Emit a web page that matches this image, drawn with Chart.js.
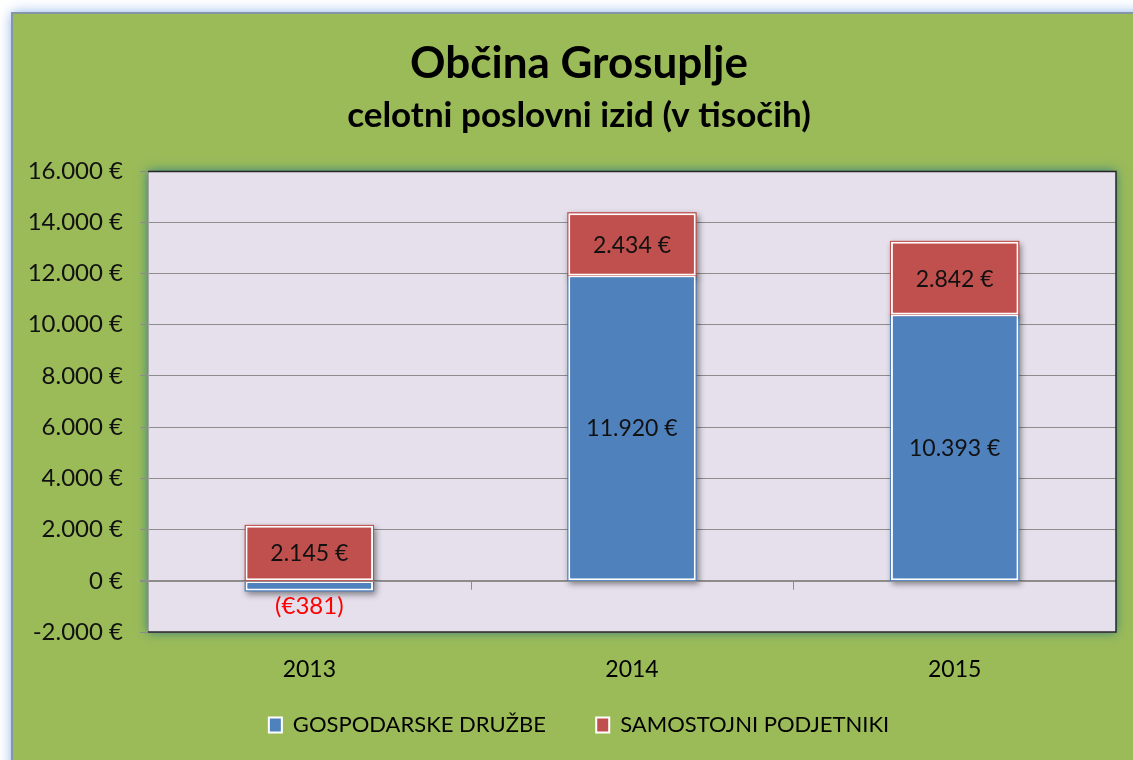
<!DOCTYPE html>
<html><head><meta charset="utf-8">
<script src="https://cdn.jsdelivr.net/npm/chart.js@4.4.0/dist/chart.umd.min.js"></script>
<style>html,body{margin:0;padding:0;overflow:hidden;background:#fff;width:1133px;height:760px}canvas{display:block}</style>
</head><body>
<canvas id="c" width="1158" height="760"></canvas>
<script>
const categories = ['2013', '2014', '2015'];
const gospodarskeDruzbe = [-381, 11920, 10393];
const samostojniPodjetniki = [2145, 2434, 2842];
const seriesNames = ['GOSPODARSKE DRUŽBE', 'SAMOSTOJNI PODJETNIKI'];
const yTickValues = [-2000, 0, 2000, 4000, 6000, 8000, 10000, 12000, 14000, 16000];
const titleText = 'Občina Grosuplje';
const subtitleText = 'celotni poslovni izid (v tisočih)';

const FONT = 'Lato, "Noto Sans", sans-serif';
function grp(v) { return Math.abs(v).toString().replace(/\B(?=(\d{3})+(?!\d))/g, '.'); }
function fmt(v) { return (v < 0 ? '-' : '') + grp(v) + ' €'; }
function fmtNeg(v) { return '(€' + grp(v) + ')'; }

const bgPlugin = {
  id: 'bg',
  beforeDraw(chart) {
    const ctx = chart.ctx, W = chart.width, H = chart.height, a = chart.chartArea;
    ctx.save();
    ctx.fillStyle = '#ffffff'; ctx.fillRect(0, 0, W, H);
    ctx.shadowColor = 'rgba(110,160,230,0.9)'; ctx.shadowBlur = 12;
    ctx.fillStyle = '#9bbb59'; ctx.fillRect(12, 13, W + 20, H + 20);
    ctx.shadowColor = 'transparent'; ctx.shadowBlur = 0;
    ctx.strokeStyle = '#8795a8'; ctx.lineWidth = 2; ctx.strokeRect(12, 13, W + 20, H + 20);
    ctx.shadowColor = 'rgba(40,120,140,0.95)'; ctx.shadowBlur = 10;
    ctx.fillStyle = '#e5e0ec'; ctx.fillRect(a.left, a.top, a.right - a.left, a.bottom - a.top);
    ctx.restore();
  },
  beforeDatasetsDraw(chart) {
    const ctx = chart.ctx;
    ctx.save();
    ctx.shadowColor = 'rgba(0,0,0,0.45)'; ctx.shadowBlur = 6; ctx.shadowOffsetX = 2; ctx.shadowOffsetY = 3;
    chart.data.datasets.forEach((ds, di) => {
      chart.getDatasetMeta(di).data.forEach(el => {
        const p = el.getProps(['x', 'y', 'base', 'width'], true);
        ctx.fillStyle = ds.backgroundColor;
        ctx.fillRect(p.x - p.width / 2 - 1, Math.min(p.y, p.base) - 1, p.width + 2, Math.abs(p.base - p.y) + 2);
      });
    });
    ctx.restore();
  },
  afterDatasetsDraw(chart) {
    const ctx = chart.ctx, a = chart.chartArea;
    const ys = chart.scales.y, xs = chart.scales.x;
    const y0 = ys.getPixelForValue(0);
    ctx.save();
    ctx.strokeStyle = '#8c8c8c'; ctx.lineWidth = 1;
    ctx.beginPath(); ctx.moveTo(a.left - 8, Math.round(y0) + 0.5); ctx.lineTo(a.right, Math.round(y0) + 0.5); ctx.stroke();
    const n = categories.length;
    for (let i = 1; i < n; i++) {
      const x = Math.round((xs.getPixelForValue(i - 1) + xs.getPixelForValue(i)) / 2) + 0.5;
      ctx.beginPath(); ctx.moveTo(x, y0); ctx.lineTo(x, y0 + 9); ctx.stroke();
    }
    ctx.font = '23px ' + FONT;
    ctx.textAlign = 'center'; ctx.textBaseline = 'middle';
    chart.data.datasets.forEach((ds, di) => {
      chart.getDatasetMeta(di).data.forEach((el, i) => {
        const v = ds.data[i];
        const p = el.getProps(['x', 'y', 'base'], true);
        if (v < 0) {
          ctx.fillStyle = '#ff0000';
          ctx.font = '24px ' + FONT;
          ctx.fillText(fmtNeg(v), p.x, p.y + 16);
          ctx.font = '23px ' + FONT;
        } else {
          ctx.fillStyle = '#111111';
          ctx.fillText(fmt(v), p.x, (p.y + p.base) / 2 + 1);
        }
      });
    });
    ctx.strokeStyle = '#262626'; ctx.lineWidth = 1.5;
    ctx.beginPath();
    ctx.moveTo(a.left, a.top + 0.5); ctx.lineTo(a.right, a.top + 0.5);
    ctx.lineTo(a.right, a.bottom); ctx.lineTo(a.left, a.bottom);
    ctx.stroke();
    ctx.restore();
  }
};

new Chart(document.getElementById('c'), {
  type: 'bar',
  data: {
    labels: categories,
    datasets: [
      { label: seriesNames[0], data: gospodarskeDruzbe, backgroundColor: '#4f81bd', borderColor: '#ffffff', borderWidth: 2, borderSkipped: false, barPercentage: 0.395, categoryPercentage: 1 },
      { label: seriesNames[1], data: samostojniPodjetniki, backgroundColor: '#c0504d', borderColor: '#ffffff', borderWidth: 2, borderSkipped: false, barPercentage: 0.395, categoryPercentage: 1 }
    ]
  },
  options: {
    responsive: false,
    animation: false,
    devicePixelRatio: 1,
    layout: { padding: { left: 12, right: 12, top: 13, bottom: 14 } },
    plugins: {
      title: { display: true, text: titleText, color: '#000', font: { family: FONT, size: 44, weight: 'bold', lineHeight: 1 }, padding: { top: 28.5, bottom: 0 } },
      subtitle: { display: true, text: subtitleText, color: '#000', font: { family: FONT, size: 35, weight: 'bold', lineHeight: 1 }, padding: { top: 13, bottom: 37.5 } },
      legend: {
        position: 'bottom',
        labels: {
          color: '#000', font: { family: FONT, size: 22 }, boxWidth: 13, boxHeight: 15, padding: 10,
          generateLabels(chart) {
            const items = Chart.defaults.plugins.legend.labels.generateLabels(chart);
            items.forEach((it, i) => { if (i < items.length - 1) it.text = it.text + '\u2003\u2003\u2004'; });
            return items;
          }
        }
      },
      tooltip: { enabled: false }
    },
    scales: {
      x: {
        stacked: true,
        grid: { display: false },
        border: { display: false },
        ticks: { color: '#000', font: { family: FONT, size: 23 }, padding: 16 },
        afterFit(s) { s.height = 72; }
      },
      y: {
        stacked: true,
        min: -2000, max: 16000,
        afterBuildTicks(s) { s.ticks = yTickValues.map(v => ({ value: v })); },
        ticks: { color: '#111', font: { family: FONT, size: 24 }, padding: 17, callback: v => fmt(v) },
        grid: { color: '#8c8c8c', lineWidth: 1, tickLength: 8 },
        border: { display: true, color: '#a6a6a6', width: 1 },
        afterFit(s) { s.width = 136; }
      },
      y2: {
        position: 'right',
        grid: { display: false },
        border: { display: false },
        ticks: { display: false },
        afterFit(s) { s.width = 30; }
      }
    }
  },
  plugins: [bgPlugin]
});
</script>
</body></html>
